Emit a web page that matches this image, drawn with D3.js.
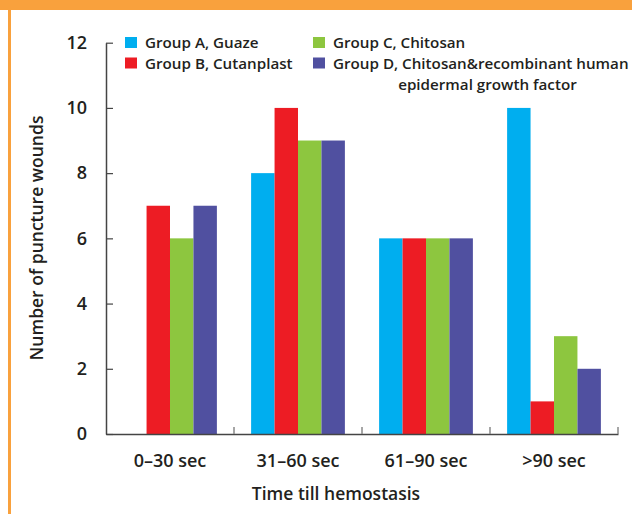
<!DOCTYPE html>
<html>
<head>
<meta charset="utf-8">
<script src="https://cdn.jsdelivr.net/npm/d3@7"></script>
<style>
  html, body { margin: 0; padding: 0; background: #fff; }
  svg { display: block; font-family: "Open Sans", sans-serif; font-weight: 600; }
</style>
</head>
<body>
<svg width="632" height="514"></svg>
<script>
// Data
const categories = ["0–30 sec", "31–60 sec", "61–90 sec", ">90 sec"];
const groups = ["A", "B", "C", "D"];
const groupLabels = [
    "Group A, Guaze",
    "Group B, Cutanplast",
    "Group C, Chitosan",
    "Group D, Chitosan&recombinant human\nepidermal growth factor"
];
const groupColors = ["#00aeef", "#ed1c24", "#8dc63f", "#5050a0"];
const groupA = [0, 8, 6, 10];
const groupB = [7, 10, 6, 1];
const groupC = [6, 9, 6, 3];
const groupD = [7, 9, 6, 2];
const yTicks = [0, 2, 4, 6, 8, 10, 12];

const values = [groupA, groupB, groupC, groupD];

// The svg
const svg = d3.select("svg"),
    width = +svg.attr("width"),
    height = +svg.attr("height");

const textColor = "#231f20";

// Frame decoration (orange band + left rule)
svg.append("rect").attr("x", 0).attr("y", 0).attr("width", width).attr("height", 10).attr("fill", "#f9a13d");
svg.append("rect").attr("x", 8).attr("y", 0).attr("width", 3).attr("height", height).attr("fill", "#f9a13d");

// Scales
const x = d3.scaleBand().domain(categories).range([106, 618]);
const xSub = d3.scaleBand().domain(groups).range([0, x.bandwidth()]).paddingOuter(0.73);
const y = d3.scaleLinear().domain([0, 12]).range([434, 42.7]);

// Bars
svg.append("g")
    .selectAll("g")
    .data(groups)
    .join("g")
        .attr("fill", (d, i) => groupColors[i])
    .selectAll("rect")
    .data((g, gi) => categories.map((c, ci) => ({ cat: c, group: g, value: values[gi][ci] })))
    .join("rect")
        .attr("x", d => x(d.cat) + xSub(d.group))
        .attr("y", d => y(d.value))
        .attr("width", xSub.bandwidth())
        .attr("height", d => y(0) - y(d.value));

// Y axis
const yAxis = svg.append("g")
    .attr("transform", "translate(106,0)")
    .call(d3.axisLeft(y).tickValues(yTicks).tickSizeInner(-7).tickSizeOuter(0).tickPadding(19));
yAxis.select(".domain").attr("stroke", "#444").attr("stroke-width", 1.5);
yAxis.selectAll(".tick line").attr("stroke", "#444").attr("stroke-width", 1.2);
yAxis.selectAll(".tick text")
    .attr("fill", textColor)
    .style("font-size", "18px")
    .style("font-family", "'Open Sans', sans-serif");

// X axis
const xAxis = svg.append("g")
    .attr("transform", "translate(0,434)")
    .call(d3.axisBottom(x).tickSize(0).tickPadding(20));
xAxis.select(".domain").attr("stroke", "#444").attr("stroke-width", 1.5);
xAxis.selectAll(".tick text")
    .attr("fill", textColor)
    .style("font-size", "18px")
    .style("font-family", "'Open Sans', sans-serif");

// boundary ticks between categories, pointing up
svg.append("g")
    .selectAll("line")
    .data(categories.slice(1).map(c => x(c)).concat([x.range()[1]]))
    .join("line")
        .attr("x1", d => d).attr("x2", d => d)
        .attr("y1", 434).attr("y2", 427)
        .attr("stroke", "#888")
        .attr("stroke-width", 1.5);

// Axis titles
svg.append("text")
    .attr("transform", "translate(43,238) rotate(-90)")
    .attr("text-anchor", "middle")
    .attr("fill", textColor)
    .style("font-size", "17.5px")
    .text("Number of puncture wounds");

svg.append("text")
    .attr("x", 336)
    .attr("y", 500)
    .attr("text-anchor", "middle")
    .attr("fill", textColor)
    .style("font-size", "17.5px")
    .text("Time till hemostasis");

// Legend
const legendCols = [125, 313];
const legendRows = [37, 57.5];
const legend = svg.append("g").style("font-size", "15.2px").attr("fill", textColor);

groups.forEach((g, i) => {
    const lx = legendCols[Math.floor(i / 2)],
        ly = legendRows[i % 2];
    legend.append("rect")
        .attr("x", lx).attr("y", ly)
        .attr("width", 12).attr("height", 11)
        .attr("fill", groupColors[i]);

    const lines = groupLabels[i].split("\n");
    const t = legend.append("text")
        .attr("x", lx + 20)
        .attr("y", ly + 11.3);
    t.append("tspan").text(lines[0]);

    if (lines.length > 1) {
        // indent the continuation under the text after the comma
        const prefix = lines[0].slice(0, lines[0].indexOf(",") + 2);
        const probe = legend.append("text").text(prefix);
        const indent = probe.node().getComputedTextLength();
        probe.remove();
        lines.slice(1).forEach(line => {
            t.append("tspan")
                .attr("x", lx + 20 + indent)
                .attr("dy", 20.7)
                .text(line);
        });
    }
});
</script>
</body>
</html>
